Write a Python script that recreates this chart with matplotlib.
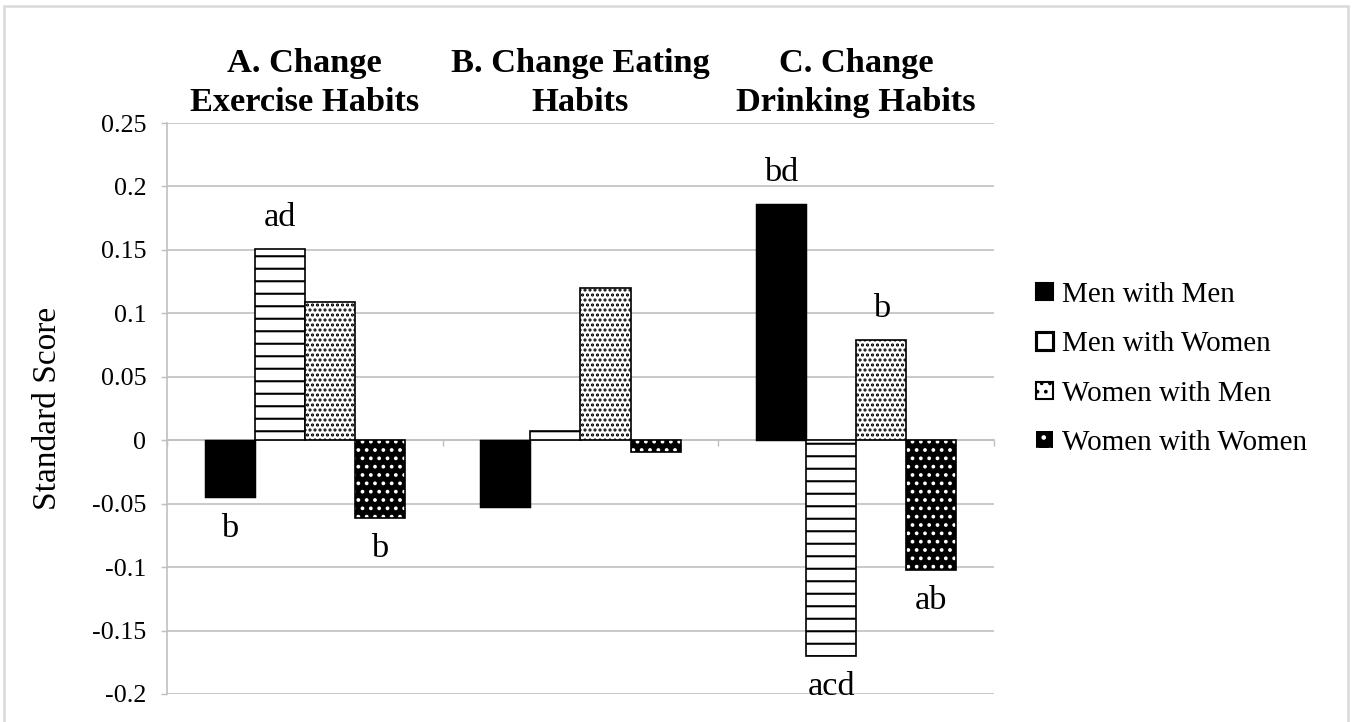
import numpy as np
import matplotlib
matplotlib.use('Agg')
import matplotlib.pyplot as plt
from matplotlib.patches import Patch, Rectangle
from matplotlib.transforms import blended_transform_factory

plt.rcParams['font.family'] = ['Liberation Serif', 'DejaVu Serif']
plt.rcParams['hatch.linewidth'] = 1.0

# groups and series
groups = ['A. Change\nExercise Habits', 'B. Change Eating\nHabits', 'C. Change\nDrinking Habits']
series = ['Men with Men', 'Men with Women', 'Women with Men', 'Women with Women']

men_men = [-0.045, -0.053, 0.186]
men_women = [0.151, 0.007, -0.170]
women_men = [0.109, 0.120, 0.079]
women_women = [-0.061, -0.009, -0.102]

# significance letters over/under each bar
men_men_lbl = ['b', '', 'bd']
men_women_lbl = ['ad', '', 'acd']
women_men_lbl = ['', '', 'b']
women_women_lbl = ['b', '', 'ab']

values = [men_men, men_women, women_men, women_women]
letters = [men_men_lbl, men_women_lbl, women_men_lbl, women_women_lbl]

grid_col = '#c0c0c0'

fig = plt.figure(figsize=(1353 / 150, 722 / 150))
ax = fig.add_axes([167 / 1353, 1 - 694 / 722, (994 - 167) / 1353, (694 - 123) / 722])

x = np.arange(len(groups))
w = 0.1815
offs = (np.arange(4) - 1.5) * w

# Men with Men: solid black
ax.bar(x + offs[0], men_men, w, color='black', edgecolor='black', linewidth=0.7, zorder=3)
# Men with Women: horizontal stripes
ax.bar(x + offs[1], men_women, w, facecolor='white', edgecolor='black', hatch='--', linewidth=0.8, zorder=3)
# Women with Men: fine black dots
ax.bar(x + offs[2], women_men, w, facecolor='white', edgecolor='black', hatch='.....', linewidth=0.8, zorder=3)
# Women with Women: black with white dots, outline on top
ax.bar(x + offs[3], women_women, w, facecolor='black', edgecolor='white', hatch='...', linewidth=0, zorder=3)
ax.bar(x + offs[3], women_women, w, fill=False, edgecolor='black', linewidth=0.8, zorder=4)

# letters
for k in range(4):
    for i in range(len(groups)):
        t = letters[k][i]
        if not t:
            continue
        v = values[k][i]
        dy = 15 if v > 0 else -15
        ax.annotate(t, (x[i] + offs[k], v), xytext=(0, dy), textcoords='offset points',
                    ha='center', va='center', fontsize=16.5)

ax.set_ylim(-0.2, 0.25)
ax.set_xlim(-0.5, 2.5)
ax.set_yticks(np.arange(-0.2, 0.26, 0.05))
ax.set_yticklabels(['-0.2', '-0.15', '-0.1', '-0.05', '0', '0.05', '0.1', '0.15', '0.2', '0.25'])
ax.tick_params(axis='y', labelsize=12.5, length=3, width=0.7, color=grid_col, pad=7)
ax.yaxis.grid(True, color=grid_col, linewidth=0.8, zorder=0)
ax.set_axisbelow(True)

# category axis sits on zero, ticks between groups
ax.spines['bottom'].set_position(('data', 0))
ax.spines['bottom'].set_color(grid_col)
ax.spines['bottom'].set_linewidth(0.8)
ax.set_xticks([-0.5, 0.5, 1.5, 2.5])
ax.set_xticklabels([])
ax.tick_params(axis='x', length=3, width=0.7, color=grid_col)
ax.spines['left'].set_color(grid_col)
ax.spines['left'].set_linewidth(0.8)
ax.spines['top'].set_visible(False)
ax.spines['right'].set_visible(False)

ax.set_ylabel('Standard Score', fontsize=16)
ax.yaxis.set_label_coords(-0.126, 0.5)

# group headings above the plot
trans = blended_transform_factory(ax.transData, fig.transFigure)
for i, g in enumerate(groups):
    ax.text(x[i], 1 - 83 / 722, g, transform=trans, ha='center', va='center',
            fontsize=16.5, fontweight='bold', linespacing=1.3)

handles = [
    Patch(facecolor='black', edgecolor='black'),
    Patch(facecolor='white', edgecolor='black', linewidth=1.5),
    Patch(facecolor='white', edgecolor='black', hatch='...'),
    Patch(facecolor='black', edgecolor='white', hatch='..', linewidth=0),
]
fig.legend(handles, series, loc='center left', bbox_to_anchor=(1036 / 1353, 1 - 369 / 722),
           frameon=False, borderpad=0, borderaxespad=0, handlelength=0.58, handleheight=0.55,
           handletextpad=0.3, labelspacing=0.8, fontsize=14)

# chart border
fig.patches.append(Rectangle((4 / 1353, -0.05), 1344 / 1353, 1.05 - 6 / 722, transform=fig.transFigure,
                             fill=False, edgecolor='#d9d9d9', linewidth=1.2))

fig.savefig('out.png', dpi=150)
